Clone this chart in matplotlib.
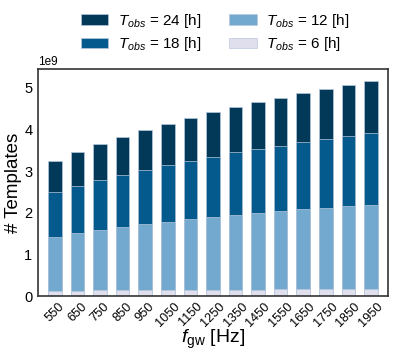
import matplotlib
matplotlib.use("Agg")
import matplotlib.pyplot as plt
import numpy as np

plt.rcParams["font.family"] = ["Liberation Sans", "DejaVu Sans"]
plt.rcParams["mathtext.fontset"] = "custom"
plt.rcParams["mathtext.rm"] = "Liberation Sans"
plt.rcParams["mathtext.it"] = "Liberation Sans:italic"
plt.rcParams["mathtext.bf"] = "Liberation Sans:bold"

freqs = [550, 650, 750, 850, 950, 1050, 1150, 1250, 1350, 1450, 1550, 1650, 1750, 1850, 1950]
t24 = [3.25, 3.47, 3.65, 3.82, 3.99, 4.14, 4.28, 4.41, 4.54, 4.66, 4.76, 4.87, 4.97, 5.07, 5.16]
t18 = [2.49, 2.64, 2.79, 2.91, 3.03, 3.14, 3.25, 3.35, 3.45, 3.53, 3.61, 3.69, 3.76, 3.84, 3.91]
t12 = [1.42, 1.51, 1.58, 1.65, 1.72, 1.78, 1.85, 1.90, 1.95, 2.00, 2.04, 2.08, 2.12, 2.16, 2.19]
t6 = [0.13, 0.13, 0.14, 0.14, 0.14, 0.14, 0.15, 0.15, 0.15, 0.15, 0.16, 0.16, 0.16, 0.17, 0.17]

series = [
    (r"$T_{obs}$ = 24 [h]", t24, "#023858"),
    (r"$T_{obs}$ = 18 [h]", t18, "#045a8d"),
    (r"$T_{obs}$ = 12 [h]", t12, "#74a9cf"),
    (r"$T_{obs}$ = 6 [h]", t6, "#e0dfee"),
]

fig = plt.figure(figsize=(3.95, 3.58), dpi=100)
ax = fig.add_axes([0.096, 0.173, 0.886, 0.634])
x = np.arange(len(freqs))
handles = []
for label, vals, col in series:
    h = ax.bar(x, np.array(vals) * 1e9, width=0.6, color=col, edgecolor="#b8c8dc",
               linewidth=0.5, label=label)
    handles.append(h)

ax.set_xlim(-0.75, len(freqs) - 0.25)
ax.set_ylim(0, 5.45e9)
ax.set_yticks(np.arange(0, 6) * 1e9)
ax.set_xticks(x)
ax.set_xticklabels([str(f) for f in freqs], rotation=45, fontsize=9.2)
ax.tick_params(axis="y", length=0, labelsize=10.5, pad=4)
ax.tick_params(axis="x", length=0, pad=3)
for s in ax.spines.values():
    s.set_color("#333333")
    s.set_linewidth(1.2)
ax.yaxis.get_offset_text().set_fontsize(8.5)
ax.set_ylabel("# Templates", fontsize=13.5)
ax.yaxis.set_label_coords(-0.046, 0.5)
ax.set_xlabel(r"$f_{\mathrm{gw}}$ [Hz]", fontsize=14)
ax.xaxis.set_label_coords(0.5, -0.142)

fig.legend(handles, [s[0] for s in series], ncol=2, loc="upper center",
           bbox_to_anchor=(0.545, 1.005), frameon=False, fontsize=11,
           handlelength=1.8, columnspacing=1.8, handletextpad=0.65, labelspacing=0.35)

fig.savefig("out.png", dpi=100)
